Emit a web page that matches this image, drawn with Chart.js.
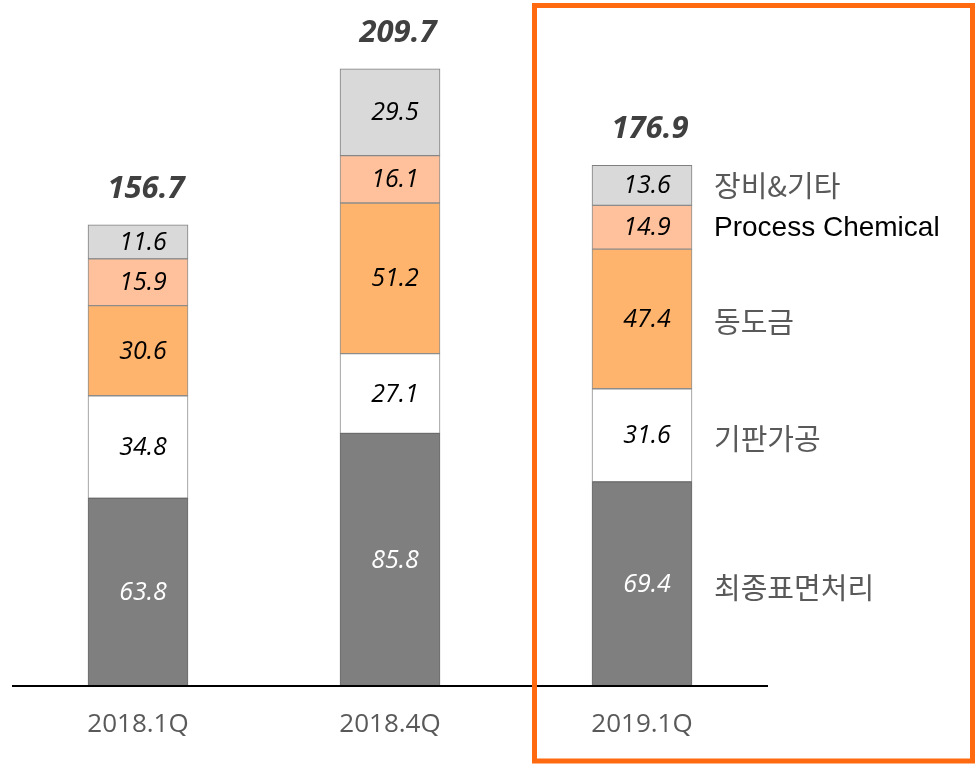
<!DOCTYPE html>
<html>
<head>
<meta charset="utf-8">
<script src="https://cdn.jsdelivr.net/npm/chart.js@4/dist/chart.umd.min.js"></script>
<style>
html,body{margin:0;padding:0;background:#fff;}
#wrap{width:976px;height:764px;position:relative;}
</style>
</head>
<body>
<div id="wrap"><canvas id="c" width="976" height="764"></canvas></div>
<script>
const categories = ['2018.1Q', '2018.4Q', '2019.1Q'];
const seriesNames = ['최종표면처리', '기판가공', '동도금', 'Process Chemical', '장비&기타'];
const finalSurface = [63.8, 85.8, 69.4];
const substrate = [34.8, 27.1, 31.6];
const copperPlating = [30.6, 51.2, 47.4];
const processChemical = [15.9, 16.1, 14.9];
const equipmentEtc = [11.6, 29.5, 13.6];
const totals = [156.7, 209.7, 176.9];

const fills = ['#7F7F7F', '#FFFFFF', '#FFB46E', '#FFC19C', '#D9D9D9'];
const borders = ['#6B6B6B', '#8C8C8C', '#8C8C8C', '#8C8C8C', '#7F7F7F'];
const labelColors = ['#FFFFFF', '#000000', '#000000', '#000000', '#000000'];
const legendColors = ['#595959', '#595959', '#595959', '#000000', '#595959'];
const legendFonts = ['400 29px "Noto Sans CJK KR"', '400 29px "Noto Sans CJK KR"', '400 29px "Noto Sans CJK KR"', '400 28px "Liberation Sans"', '400 29px "Noto Sans CJK KR"'];
const legendDy = [4, 4, 3, 1, 1];
const seriesValues = [finalSurface, substrate, copperPlating, processChemical, equipmentEtc];

const labelPlugin = {
  id: 'labels',
  afterDatasetsDraw(chart) {
    const ctx = chart.ctx;
    const area = chart.chartArea;
    const xs = chart.scales.x;
    ctx.save();
    ctx.strokeStyle = '#000';
    ctx.lineWidth = 2;
    ctx.beginPath();
    ctx.moveTo(area.left, area.bottom);
    ctx.lineTo(area.right, area.bottom);
    ctx.stroke();
    ctx.textBaseline = 'middle';
    chart.data.datasets.forEach((ds, di) => {
      const meta = chart.getDatasetMeta(di);
      meta.data.forEach((el, i) => {
        const y = (el.y + el.base) / 2;
        ctx.font = 'italic 400 25px "Open Sans"';
        ctx.fillStyle = labelColors[di];
        ctx.textAlign = 'center';
        ctx.fillText(ds.data[i].toFixed(1), el.x + 5, y + 1);
        if (i === categories.length - 1) {
          ctx.font = legendFonts[di];
          ctx.fillStyle = legendColors[di];
          ctx.textAlign = 'left';
          ctx.fillText(ds.label, el.x + el.width / 2 + 22, y + legendDy[di]);
        }
      });
    });
    const topMeta = chart.getDatasetMeta(chart.data.datasets.length - 1);
    ctx.font = 'italic 700 31px "Open Sans"';
    ctx.fillStyle = '#404040';
    ctx.textAlign = 'center';
    topMeta.data.forEach((el, i) => {
      ctx.fillText(totals[i].toFixed(1), el.x + 8, el.y - 36);
    });
    ctx.font = '400 26px "Open Sans"';
    ctx.fillStyle = '#595959';
    categories.forEach((c, i) => {
      ctx.fillText(c, xs.getPixelForValue(i), 725);
    });
    ctx.strokeStyle = '#FF6A10';
    ctx.lineWidth = 5;
    ctx.strokeRect(534.5, 5.5, 438, 755.5);
    ctx.restore();
  }
};

new Chart(document.getElementById('c'), {
  type: 'bar',
  data: {
    labels: categories,
    datasets: seriesValues.map((vals, i) => ({
      label: seriesNames[i],
      data: vals,
      backgroundColor: fills[i],
      borderColor: borders[i],
      borderWidth: 1,
      borderSkipped: false,
      barThickness: 100
    }))
  },
  options: {
    responsive: false,
    animation: false,
    layout: { padding: { left: 12, right: 208, top: 9, bottom: 78 } },
    plugins: { legend: { display: false }, tooltip: { enabled: false } },
    scales: {
      x: { stacked: true, display: false, offset: true },
      y: { stacked: true, display: false, min: 0, max: 230 }
    }
  },
  plugins: [labelPlugin]
});
</script>
</body>
</html>
